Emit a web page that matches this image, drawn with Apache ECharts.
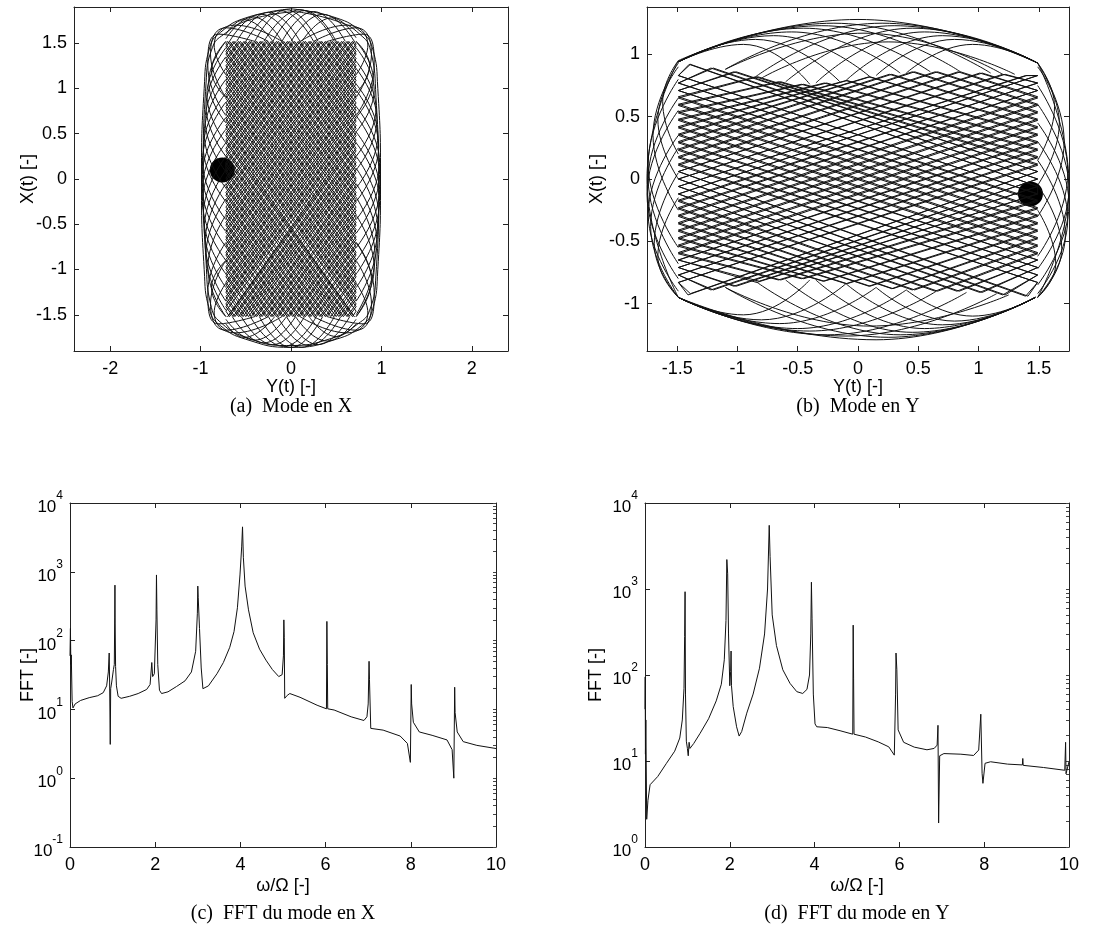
<!DOCTYPE html>
<html>
<head>
<meta charset="utf-8">
<script src="https://cdn.jsdelivr.net/npm/echarts@6.0.0/dist/echarts.min.js"></script>
<style>
  html, body { margin: 0; padding: 0; background: #fff; }
  #chart { width: 1104px; height: 940px; }
</style>
</head>
<body>
<div id="chart"></div>
<script>
// ---- (a) mode en X : trajectoire Y(t) / X(t), points de rebond
const trajModeX = [
  [-0.72,0.10],[0.47,-1.52],[0.72,-1.17],[-0.72,0.80],[-0.20,1.52],[0.72,0.26],[-0.58,-1.52],[-0.72,-1.33],[0.72,0.64],[0.08,1.52],
  [-0.72,0.43],[0.70,-1.52],[0.72,-1.50],[-0.72,0.48],[0.04,1.52],[0.72,0.59],[-0.72,-1.38],[-0.62,-1.52],[0.72,0.31],[-0.16,1.52],
  [-0.72,0.76],[0.72,-1.22],[0.50,-1.52],[-0.72,0.15],[0.28,1.52],[0.72,0.92],[-0.72,-1.05],[-0.38,-1.52],[0.72,-0.02],[-0.40,1.52],
  [-0.72,1.09],[0.72,-0.89],[0.26,-1.52],[-0.72,-0.18],[0.52,1.52],[0.72,1.25],[-0.72,-0.72],[-0.14,-1.52],[0.72,-0.35],[-0.64,1.52],
  [-0.72,1.41],[0.72,-0.56],[0.02,-1.52],[-0.72,-0.51],[0.72,1.46],[0.68,1.52],[-0.72,-0.39],[0.10,-1.52],[0.72,-0.67],[-0.72,1.30],
  [-0.56,1.52],[0.72,-0.23],[-0.22,-1.52],[-0.72,-0.84],[0.72,1.13],[0.44,1.52],[-0.72,-0.07],[0.34,-1.52],[0.72,-1.00],[-0.72,0.97],
  [-0.32,1.52],[0.72,0.10],
  [-0.47,-1.52],[-0.72,-1.17],[0.72,0.80],[0.20,1.52],[-0.72,0.26],[0.58,-1.52],[0.72,-1.33],[-0.72,0.64],[-0.08,1.52],
  [0.72,0.43],[-0.70,-1.52],[-0.72,-1.50],[0.72,0.48],[-0.04,1.52],[-0.72,0.59],[0.72,-1.38],[0.62,-1.52],[-0.72,0.31],[0.16,1.52],
  [0.72,0.76],[-0.72,-1.22],[-0.50,-1.52],[0.72,0.15],[-0.28,1.52],[-0.72,0.92],[0.72,-1.05],[0.38,-1.52],[-0.72,-0.02],[0.40,1.52],
  [0.72,1.09],[-0.72,-0.89],[-0.26,-1.52],[0.72,-0.18],[-0.52,1.52],[-0.72,1.25],[0.72,-0.72],[0.14,-1.52],[-0.72,-0.35],[0.64,1.52],
  [0.72,1.41],[-0.72,-0.56],[-0.02,-1.52],[0.72,-0.51],[-0.72,1.46],[-0.68,1.52],[0.72,-0.39],[-0.10,-1.52],[-0.72,-0.67],[0.72,1.30],
  [0.56,1.52],[-0.72,-0.23],[0.22,-1.52],[0.72,-0.84],[-0.72,1.13],[-0.44,1.52],[0.72,-0.07],[-0.34,-1.52],[-0.72,-1.00],[0.72,0.97],
  [0.32,1.52],[-0.72,0.10],
  // second passage, decale d'une demi-maille
  [-0.72,0.18],[0.53,-1.52],[0.72,-1.25],[-0.72,0.72],[-0.14,1.52],[0.72,0.34],[-0.64,-1.52],[-0.72,-1.41],[0.72,0.56],[0.02,1.52],
  [-0.72,0.51],[0.72,-1.46],[0.68,-1.52],[-0.72,0.40],[0.10,1.52],[0.72,0.67],[-0.72,-1.30],[-0.56,-1.52],[0.72,0.23],[-0.22,1.52],
  [-0.72,0.84],[0.72,-1.14],[0.44,-1.52],[-0.72,0.07],[0.34,1.52],[0.72,1.00],[-0.72,-0.97],[-0.32,-1.52],[0.72,-0.10],[-0.46,1.52],
  [-0.72,1.17],[0.72,-0.81],[0.20,-1.52],[-0.72,-0.26],[0.58,1.52],[0.72,1.33],[-0.72,-0.64],[-0.08,-1.52],[0.72,-0.43],[-0.70,1.52],
  [-0.72,1.49],[0.72,-0.48],[-0.04,-1.52],[-0.72,-0.59],[0.72,1.38],[0.62,1.52],[-0.72,-0.31],[0.16,-1.52],[0.72,-0.75],[-0.72,1.22],
  [-0.50,1.52],[0.72,-0.15],[-0.28,-1.52],[-0.72,-0.92],[0.72,1.05],[0.38,1.52],[-0.72,0.01],[0.40,-1.52],[0.72,-1.08],[-0.72,0.89],
  [-0.26,1.52],[0.72,0.18],
  [-0.53,-1.52],[-0.72,-1.25],[0.72,0.72],[0.14,1.52],[-0.72,0.34],[0.64,-1.52],[0.72,-1.41],[-0.72,0.56],[-0.02,1.52],
  [0.72,0.51],[-0.72,-1.46],[-0.68,-1.52],[0.72,0.40],[-0.10,1.52],[-0.72,0.67],[0.72,-1.30],[0.56,-1.52],[-0.72,0.23],[0.22,1.52],
  [0.72,0.84],[-0.72,-1.14],[-0.44,-1.52],[0.72,0.07],[-0.34,1.52],[-0.72,1.00],[0.72,-0.97],[0.32,-1.52],[-0.72,-0.10],[0.46,1.52],
  [0.72,1.17],[-0.72,-0.81],[-0.20,-1.52],[0.72,-0.26],[-0.58,1.52],[-0.72,1.33],[0.72,-0.64],[0.08,-1.52],[-0.72,-0.43],[0.70,1.52],
  [0.72,1.49],[-0.72,-0.48],[0.04,-1.52],[0.72,-0.59],[-0.72,1.38],[-0.62,1.52],[0.72,-0.31],[-0.16,-1.52],[-0.72,-0.75],[0.72,1.22],
  [0.50,1.52],[-0.72,-0.15],[0.28,-1.52],[0.72,-0.92],[-0.72,1.05],[-0.38,1.52],[0.72,0.01],[-0.40,-1.52],[-0.72,-1.08],[0.72,0.89],
  [0.26,1.52],[-0.72,0.18]
];
// enveloppe exterieure
const loopsModeX = [
  [[0,1.88],[0.5,1.78],[0.78,1.62],[0.9,1.45],[0.96,1.0],[0.99,0],[0.96,-1.0],[0.9,-1.45],[0.78,-1.62],[0.5,-1.77],[0,-1.86],
   [-0.5,-1.77],[-0.78,-1.62],[-0.9,-1.45],[-0.96,-1.0],[-0.99,0],[-0.96,1.0],[-0.9,1.45],[-0.78,1.62],[-0.5,1.78],[0,1.88]],
  [[0.05,1.85],[0.52,1.74],[0.76,1.6],[0.88,1.42],[0.94,0.9],[0.97,-0.1],[0.94,-1.05],[0.87,-1.45],[0.74,-1.6],[0.45,-1.76],[-0.05,-1.84],
   [-0.52,-1.74],[-0.76,-1.6],[-0.88,-1.42],[-0.94,-0.9],[-0.97,0.1],[-0.94,1.05],[-0.87,1.45],[-0.74,1.6],[-0.45,1.76],[0.05,1.85]]
];
// arcs des lobes lateraux, des calottes et des coins
const arcsModeX = [
  [[-0.72,1.52],[-0.91,1.07],[-0.72,0.62]], [[-0.72,1.35],[-0.94,0.80],[-0.72,0.25]], [[-0.72,1.10],[-0.96,0.50],[-0.72,-0.10]],
  [[-0.72,0.85],[-0.98,0.20],[-0.72,-0.45]], [[-0.72,0.55],[-0.98,-0.10],[-0.72,-0.75]], [[-0.72,0.25],[-0.97,-0.40],[-0.72,-1.05]],
  [[-0.72,-0.05],[-0.95,-0.70],[-0.72,-1.35]], [[-0.72,-0.40],[-0.92,-0.98],[-0.72,-1.52]], [[-0.72,1.52],[-0.88,1.20],[-0.72,0.90]],
  [[-0.72,-1.52],[-0.88,-1.20],[-0.72,-0.90]],
  [[-0.72,1.45],[-0.93,0.93],[-0.72,0.40]], [[-0.72,1.22],[-0.95,0.65],[-0.72,0.08]], [[-0.72,0.95],[-0.97,0.35],[-0.72,-0.25]],
  [[-0.72,0.68],[-0.98,0.05],[-0.72,-0.58]], [[-0.72,0.40],[-0.98,-0.25],[-0.72,-0.90]], [[-0.72,0.10],[-0.96,-0.55],[-0.72,-1.20]],
  [[-0.72,-0.22],[-0.94,-0.83],[-0.72,-1.45]],
  [[0.72,1.45],[0.92,0.98],[0.72,0.52]], [[0.72,1.22],[0.95,0.66],[0.72,0.10]], [[0.72,0.98],[0.97,0.36],[0.72,-0.25]],
  [[0.72,0.70],[0.98,0.05],[0.72,-0.60]], [[0.72,0.40],[0.98,-0.25],[0.72,-0.90]], [[0.72,0.12],[0.96,-0.55],[0.72,-1.20]],
  [[0.72,-0.20],[0.93,-0.85],[0.72,-1.50]], [[0.72,1.52],[0.87,1.25],[0.72,0.95]], [[0.72,-0.70],[0.89,-1.12],[0.72,-1.52]],
  [[0.72,1.52],[0.91,1.10],[0.72,0.68]], [[0.72,1.30],[0.94,0.78],[0.72,0.25]], [[0.72,1.05],[0.96,0.48],[0.72,-0.10]],
  [[0.72,0.80],[0.98,0.18],[0.72,-0.45]], [[0.72,0.52],[0.98,-0.12],[0.72,-0.76]], [[0.72,0.25],[0.97,-0.40],[0.72,-1.05]],
  [[0.72,-0.05],[0.95,-0.70],[0.72,-1.35]], [[0.72,-0.40],[0.92,-0.98],[0.72,-1.52]],
  [[-0.72,1.55],[-0.42,1.79],[-0.10,1.52]], [[-0.60,1.52],[-0.25,1.84],[0.10,1.52]], [[-0.40,1.52],[-0.05,1.87],[0.30,1.52]],
  [[-0.20,1.52],[0.15,1.86],[0.50,1.52]], [[0.00,1.52],[0.35,1.82],[0.70,1.52]], [[0.12,1.52],[0.45,1.78],[0.72,1.56]],
  [[-0.50,1.52],[-0.12,1.86],[0.25,1.52]], [[-0.68,1.52],[-0.33,1.82],[0.02,1.52]], [[-0.10,1.52],[0.25,1.85],[0.60,1.52]],
  [[-0.72,1.60],[-0.52,1.76],[-0.20,1.52]], [[-0.30,1.52],[0.10,1.87],[0.48,1.52]],
  [[-0.72,-1.55],[-0.40,-1.78],[-0.05,-1.52]], [[-0.55,-1.52],[-0.20,-1.83],[0.15,-1.52]], [[-0.35,-1.52],[0.00,-1.86],[0.35,-1.52]],
  [[-0.15,-1.52],[0.20,-1.84],[0.55,-1.52]], [[0.05,-1.52],[0.40,-1.79],[0.72,-1.55]], [[-0.45,-1.52],[-0.08,-1.85],[0.28,-1.52]],
  [[0.20,-1.52],[0.50,-1.74],[0.72,-1.60]], [[-0.65,-1.52],[-0.30,-1.81],[0.05,-1.52]], [[-0.05,-1.52],[0.30,-1.83],[0.65,-1.52]],
  [[-0.72,-1.60],[-0.52,-1.75],[-0.18,-1.52]], [[-0.25,-1.52],[0.12,-1.86],[0.48,-1.52]],
  [[-0.72,0.90],[-0.89,1.38],[-0.72,1.67],[-0.25,1.52]], [[-0.72,1.15],[-0.85,1.48],[-0.62,1.70],[-0.10,1.52]],
  [[-0.72,0.70],[-0.92,1.25],[-0.80,1.60],[-0.40,1.52]],
  [[0.72,0.90],[0.89,1.38],[0.72,1.67],[0.25,1.52]], [[0.72,1.15],[0.85,1.48],[0.62,1.70],[0.10,1.52]],
  [[0.72,0.70],[0.92,1.25],[0.80,1.60],[0.40,1.52]],
  [[-0.72,-0.90],[-0.89,-1.38],[-0.72,-1.67],[-0.25,-1.52]], [[-0.72,-1.15],[-0.85,-1.48],[-0.62,-1.70],[-0.10,-1.52]],
  [[-0.72,-0.70],[-0.92,-1.25],[-0.80,-1.60],[-0.40,-1.52]],
  [[0.72,-0.90],[0.89,-1.38],[0.72,-1.67],[0.25,-1.52]], [[0.72,-1.15],[0.85,-1.48],[0.62,-1.70],[0.10,-1.52]],
  [[0.72,-0.70],[0.92,-1.25],[0.80,-1.60],[0.40,-1.52]]
];
const startModeX = [[-0.76, 0.10]];

// ---- (b) mode en Y
const trajModeY = [
  [1.49,-0.12],[-1.49,0.83],[-1.39,0.92],[1.49,-0.06],[-1.03,-0.86],[-1.49,-0.71],[1.49,0.23],[-0.47,0.76],[-1.49,0.54],[1.49,-0.41],
  [0.09,-0.86],[-1.49,-0.36],[1.49,0.59],[0.64,0.86],[-1.49,0.18],[1.49,-0.77],[1.20,-0.93],[-1.49,0.00],[1.22,0.84],[1.49,0.77],
  [-1.49,-0.17],[0.66,-0.90],[1.49,-0.60],[-1.49,0.35],[0.10,0.82],[1.49,0.42],[-1.49,-0.53],[-0.45,-0.80],[1.49,-0.24],[-1.49,0.71],
  [-1.01,0.86],[1.49,0.06],[-1.41,-0.93],[-1.49,-0.83],[1.49,0.11],[-0.85,0.82],[-1.49,0.66],[1.49,-0.29],[-0.29,-0.82],[-1.49,-0.48],
  [1.49,0.47],[0.26,0.84],[-1.49,0.30],[1.49,-0.65],[0.82,-0.90],[-1.49,-0.12],
  [1.49,0.83],[1.39,0.83],[-1.49,-0.06],[1.03,-0.91],[1.49,-0.71],[-1.49,0.23],[0.47,0.86],[1.49,0.54],[-1.49,-0.41],
  [-0.09,-0.84],[1.49,-0.36],[-1.49,0.59],[-0.64,0.78],[1.49,0.18],[-1.49,-0.77],[-1.20,-0.89],[1.49,0.00],[-1.22,0.89],[-1.49,0.77],
  [1.49,-0.17],[-0.66,-0.81],[-1.49,-0.60],[1.49,0.35],[-0.10,0.79],[-1.49,0.42],[1.49,-0.53],[0.45,-0.89],[-1.49,-0.24],[1.49,0.71],
  [1.01,0.85],[-1.49,0.06],[1.41,-0.94],[1.49,-0.83],[-1.49,0.11],[0.85,0.86],[1.49,0.66],[-1.49,-0.29],[0.29,-0.88],[1.49,-0.48],
  [-1.49,0.47],[-0.26,0.77],[1.49,0.30],[-1.49,-0.65],[-0.82,-0.82],[1.49,-0.12],
  // second passage
  [1.49,-0.06],[-1.40,0.92],[-1.49,0.83],[1.49,-0.12],[-0.84,-0.83],[-1.49,-0.65],[1.49,0.29],[-0.28,0.77],[-1.49,0.48],[1.49,-0.47],
  [0.28,-0.88],[-1.49,-0.30],[1.49,0.65],[0.83,0.86],[-1.49,0.12],[1.49,-0.83],[1.39,-0.94],[-1.49,0.06],[1.03,0.85],[1.49,0.71],
  [-1.49,-0.23],[0.47,-0.89],[1.49,-0.54],[-1.49,0.41],[-0.09,0.79],[1.49,0.36],[-1.49,-0.59],[-0.64,-0.81],[1.49,-0.18],[-1.49,0.77],
  [-1.20,0.89],[1.49,0.00],[-1.22,-0.89],[-1.49,-0.77],[1.49,0.17],[-0.66,0.78],[-1.49,0.60],[1.49,-0.35],[-0.10,-0.84],[-1.49,-0.42],
  [1.49,0.53],[0.45,0.86],[-1.49,0.24],[1.49,-0.71],[1.01,-0.91],[-1.49,-0.06],
  [1.40,0.83],[1.49,0.83],[-1.49,-0.12],[0.84,-0.90],[1.49,-0.65],[-1.49,0.29],[0.28,0.84],[1.49,0.48],[-1.49,-0.47],
  [-0.28,-0.82],[1.49,-0.30],[-1.49,0.65],[-0.83,0.82],[1.49,0.12],[-1.49,-0.83],[-1.39,-0.92],[1.49,0.06],[-1.03,0.86],[-1.49,0.71],
  [1.49,-0.23],[-0.47,-0.80],[-1.49,-0.54],[1.49,0.41],[0.09,0.82],[-1.49,0.36],[1.49,-0.59],[0.64,-0.90],[-1.49,-0.18],[1.49,0.77],
  [1.20,0.84],[-1.49,0.00],[1.22,-0.93],[1.49,-0.77],[-1.49,0.17],[0.66,0.86],[1.49,0.60],[-1.49,-0.35],[0.10,-0.86],[1.49,-0.42],
  [-1.49,0.53],[-0.45,0.76],[1.49,0.24],[-1.49,-0.71],[-1.01,-0.86],[1.49,-0.06]
];
const arcsModeY = [
  [[-1.49,0.94],[-0.95,1.08],[-0.40,0.76]], [[-1.49,0.94],[-0.70,1.15],[0.10,0.82]], [[-1.49,0.94],[-0.45,1.21],[0.60,0.86]],
  [[-1.49,0.94],[-0.20,1.25],[1.10,0.85]], [[-1.49,0.95],[0.00,1.28],[1.49,0.93]],
  [[-1.49,0.94],[-0.85,1.12],[-0.15,0.78]], [[-1.49,0.94],[-0.55,1.18],[0.35,0.85]], [[-1.49,0.94],[-0.30,1.23],[0.85,0.86]],
  [[1.49,0.93],[0.95,1.08],[0.40,0.85]], [[1.49,0.93],[0.70,1.15],[-0.10,0.79]], [[1.49,0.93],[0.45,1.21],[-0.60,0.78]],
  [[1.49,0.93],[0.20,1.25],[-1.10,0.88]], [[1.49,0.93],[0.80,1.12],[0.15,0.83]], [[1.49,0.93],[0.55,1.18],[-0.35,0.77]],
  [[1.49,0.93],[0.30,1.23],[-0.85,0.82]], [[-1.10,0.88],[0.05,1.17],[1.20,0.84]], [[-0.80,0.81],[0.25,1.10],[1.30,0.84]],
  [[-1.49,-0.95],[-0.95,-1.09],[-0.40,-0.81]], [[-1.49,-0.95],[-0.65,-1.16],[0.15,-0.87]], [[-1.49,-0.95],[-0.40,-1.22],[0.65,-0.90]],
  [[-1.49,-0.95],[-0.10,-1.26],[1.15,-0.92]], [[-1.49,-0.95],[0.15,-1.29],[1.47,-0.95]],
  [[-1.49,-0.95],[-0.80,-1.13],[-0.10,-0.84]], [[-1.49,-0.95],[-0.50,-1.20],[0.40,-0.89]], [[-1.49,-0.95],[-0.25,-1.25],[0.90,-0.91]],
  [[1.47,-0.95],[0.95,-1.10],[0.40,-0.89]], [[1.47,-0.95],[0.70,-1.17],[-0.10,-0.84]], [[1.47,-0.95],[0.45,-1.23],[-0.60,-0.81]],
  [[1.47,-0.95],[0.25,-1.27],[-1.10,-0.87]], [[1.47,-0.95],[0.80,-1.14],[0.15,-0.87]], [[1.47,-0.95],[0.55,-1.20],[-0.35,-0.81]],
  [[1.47,-0.95],[0.35,-1.25],[-0.85,-0.82]], [[-1.10,-0.87],[0.10,-1.18],[1.25,-0.93]],
  [[-1.49,0.95],[-1.62,0.62],[-1.49,0.20]], [[-1.49,0.93],[-1.70,0.35],[-1.49,-0.25]], [[-1.49,0.80],[-1.74,0.12],[-1.49,-0.55]],
  [[-1.49,0.55],[-1.75,-0.12],[-1.49,-0.80]], [[-1.49,0.25],[-1.72,-0.38],[-1.49,-0.95]], [[-1.49,-0.15],[-1.66,-0.62],[-1.49,-0.95]],
  [[-1.49,0.95],[-1.75,0.00],[-1.49,-0.95]], [[-1.49,0.90],[-1.66,0.48],[-1.49,0.00]], [[-1.49,0.65],[-1.74,0.00],[-1.49,-0.68]],
  [[-1.49,0.35],[-1.74,-0.28],[-1.49,-0.90]], [[-1.49,0.05],[-1.69,-0.52],[-1.49,-0.95]],
  [[1.49,0.93],[1.63,0.58],[1.49,0.15]], [[1.49,0.93],[1.71,0.30],[1.49,-0.30]], [[1.49,0.75],[1.74,0.05],[1.49,-0.62]],
  [[1.49,0.45],[1.75,-0.20],[1.49,-0.85]], [[1.49,0.15],[1.72,-0.45],[1.49,-0.95]], [[1.49,-0.25],[1.64,-0.68],[1.49,-0.95]],
  [[1.49,0.93],[1.75,-0.05],[1.49,-0.95]], [[1.49,0.90],[1.67,0.45],[1.49,-0.05]], [[1.49,0.60],[1.75,-0.08],[1.49,-0.72]],
  [[1.49,0.30],[1.74,-0.32],[1.49,-0.92]], [[1.49,-0.05],[1.69,-0.56],[1.49,-0.95]]
];
const startModeY = [[1.43, -0.12]];

// ---- (c) FFT du mode en X  [omega/Omega, FFT]
const fftModeX = [
  [0.00,60],[0.01,150],[0.02,45],[0.03,62],[0.05,13],[0.07,10.5],[0.12,12],[0.25,13.5],[0.45,14.8],[0.65,15.8],[0.78,17.5],[0.86,22],
  [0.90,35],[0.92,66],[0.93,25],[0.945,3.1],[0.955,20],[0.98,25],[1.02,38],[1.04,45],[1.05,220],[1.055,640],[1.06,180],[1.07,42],
  [1.09,22],[1.13,15.5],[1.2,14.5],[1.4,15.5],[1.6,17],[1.8,19.5],[1.88,23],[1.92,48],[1.94,30],[1.98,33],[2.02,200],[2.03,900],
  [2.04,280],[2.06,45],[2.1,19],[2.15,17],[2.3,18],[2.5,21.5],[2.7,26],[2.85,35],[2.95,70],[2.99,250],[3.0,620],[3.01,420],[3.04,150],
  [3.08,40],[3.12,20],[3.15,19],[3.25,22],[3.45,33],[3.6,48],[3.75,80],[3.85,135],[3.93,300],[3.99,900],[4.03,2300],[4.05,4500],
  [4.07,1600],[4.11,620],[4.19,280],[4.3,130],[4.45,75],[4.6,52],[4.75,38],[4.9,30],[4.98,32],[5.01,60],[5.02,200],[5.03,110],
  [5.04,14.5],[5.1,16],[5.16,17],[5.4,15],[5.8,11.5],[6.02,10.2],[6.03,190],[6.04,45],[6.05,10.2],[6.2,9.8],[6.6,7.8],[6.9,6.9],
  [6.97,7.8],[7.0,12],[7.02,50],[7.03,27],[7.06,5.3],[7.35,5.0],[7.75,4.1],[7.92,3.2],[7.99,1.7],[8.01,23],[8.02,12],[8.06,6.5],
  [8.2,4.7],[8.5,4.2],[8.85,3.6],[8.97,2.6],[9.01,1.0],[9.03,21],[9.04,9],[9.09,4.7],[9.23,3.4],[9.55,3.0],[10,2.7]
];
// ---- (d) FFT du mode en Y
const fftModeY = [
  [0.00,40],[0.005,95],[0.01,12],[0.02,30],[0.04,2.1],[0.07,3.5],[0.12,5.3],[0.3,6.6],[0.5,9.3],[0.7,13],[0.82,18.5],[0.88,30],
  [0.92,70],[0.935,280],[0.945,930],[0.955,60],[0.975,17],[1.0,14],[1.02,11.5],[1.04,16.5],[1.06,14],[1.15,16],[1.3,21],[1.5,31],
  [1.68,50],[1.8,78],[1.87,150],[1.91,430],[1.93,2200],[1.95,1500],[1.97,300],[2.0,75],[2.02,110],[2.03,190],[2.04,75],[2.08,43],
  [2.16,25],[2.22,19.5],[2.28,22],[2.4,36],[2.55,60],[2.7,120],[2.82,300],[2.89,1000],[2.93,5500],[2.95,2400],[3.0,500],[3.1,220],
  [3.25,115],[3.42,80],[3.58,64],[3.72,61],[3.82,68],[3.88,100],[3.91,300],[3.925,1200],[3.94,450],[3.97,60],[4.01,27],[4.05,25],
  [4.3,24.5],[4.6,22.5],[4.9,20.5],[4.91,380],[4.92,90],[4.93,20.5],[5.2,19],[5.5,16.7],[5.75,14.6],[5.88,11.7],[5.91,60],[5.92,180],
  [5.94,115],[5.97,23],[6.1,16.5],[6.35,14.5],[6.65,13.5],[6.82,14],[6.89,15.3],[6.91,26],[6.925,1.9],[6.95,11.5],[7.05,12.2],
  [7.45,12],[7.75,11.6],[7.87,13.4],[7.92,35],[7.95,7.2],[7.97,5.5],[8.02,9.4],[8.15,9.8],[8.55,9.2],[8.9,9.0],[8.91,10.7],[8.92,8.9],
  [9.4,8.4],[9.9,7.8],[9.92,16.5],[9.93,7.1],[10,9.8]
];

// ---- ticks
const ticksA_x = [-2, -1, 0, 1, 2];
const ticksA_y = [-1.5, -1, -0.5, 0, 0.5, 1, 1.5];
const ticksB_x = [-1.5, -1, -0.5, 0, 0.5, 1, 1.5];
const ticksB_y = [-1, -0.5, 0, 0.5, 1];
const ticksFreq = [0, 2, 4, 6, 8, 10];
const ticksFftX = [0.1, 1, 10, 100, 1000, 10000];
const ticksFftY = [1, 10, 100, 1000, 10000];
// graduations secondaires du cote droit des axes log
const minorFftX = [0.1,0.2,0.3,0.4,0.5,0.6,0.7,0.8,0.9,1,2,3,4,5,6,7,8,9,10,20,30,40,50,60,70,80,90,100,
  200,300,400,500,600,700,800,900,1000,2000,3000,4000,5000,6000,7000,8000,9000,10000];
const minorFftY = [1,2,3,4,5,6,7,8,9,10,20,30,40,50,60,70,80,90,100,
  200,300,400,500,600,700,800,900,1000,2000,3000,4000,5000,6000,7000,8000,9000,10000];

const SANS = "'Liberation Sans', Arial, Helvetica, sans-serif";
const SERIF = "'Liberation Serif', 'Times New Roman', serif";
const INK = '#000';

const chart = echarts.init(document.getElementById('chart'), null, {renderer: 'canvas'});

const grids = [
  {left: 74, top: 7, width: 434, height: 344},
  {left: 647, top: 7, width: 422, height: 344},
  {left: 70, top: 503, width: 426, height: 344},
  {left: 645, top: 503, width: 424, height: 344}
];

function logLabel(v) {
  const e = Math.round(Math.log10(v));
  return '{b|10}{s|' + e + '}';
}

// one bottom+top x axis and one left+right y axis per grid, to close the box
function xAxes(g, cfg) {
  const base = {
    type: 'value', gridIndex: g, min: cfg.min, max: cfg.max,
    axisLine: {show: true, onZero: false, lineStyle: {color: '#222', width: 1}},
    axisTick: {show: true, inside: true, length: 5, customValues: cfg.ticks, lineStyle: {color: '#222'}},
    splitLine: {show: false}
  };
  return [
    Object.assign({}, base, {
      position: 'bottom',
      axisLabel: {customValues: cfg.ticks, color: INK, fontSize: 18, fontFamily: SANS, margin: 9},
      name: cfg.name, nameLocation: 'middle', nameGap: cfg.nameGap, nameMoveOverlap: false,
      nameTextStyle: {color: INK, fontSize: 18, fontFamily: SANS}
    }),
    Object.assign({}, base, {position: 'top', axisLabel: {show: false}})
  ];
}
function yAxes(g, cfg) {
  const base = {
    type: cfg.log ? 'log' : 'value', logBase: 10, gridIndex: g, min: cfg.min, max: cfg.max,
    axisLine: {show: true, onZero: false, lineStyle: {color: '#222', width: 1}},
    axisTick: {show: true, inside: true, length: 5, customValues: cfg.ticks, lineStyle: {color: '#222'}},
    splitLine: {show: false}
  };
  const label = cfg.log ? {
    customValues: cfg.ticks, formatter: logLabel, margin: 7,
    rich: {
      b: {fontSize: 17, fontFamily: SANS, color: INK, lineHeight: 26, verticalAlign: 'bottom'},
      s: {fontSize: 12, fontFamily: SANS, color: INK, lineHeight: 13, verticalAlign: 'top'}
    }
  } : {customValues: cfg.ticks, color: INK, fontSize: 18, fontFamily: SANS, margin: 7};
  const right = Object.assign({}, base, {position: 'right', axisLabel: {show: false}});
  if (cfg.minor) {
    right.axisTick = {show: true, inside: true, length: 3, customValues: cfg.minor, lineStyle: {color: '#444'}};
  }
  return [
    Object.assign({}, base, {
      position: 'left', axisLabel: label,
      name: cfg.name, nameLocation: 'middle', nameGap: cfg.nameGap, nameRotate: 90, nameMoveOverlap: false,
      nameTextStyle: {color: INK, fontSize: 18, fontFamily: SANS}
    }),
    right
  ];
}

const xAxis = [].concat(
  xAxes(0, {min: -2.4, max: 2.4, ticks: ticksA_x, name: 'Y(t) [-]', nameGap: 27}),
  xAxes(1, {min: -1.75, max: 1.75, ticks: ticksB_x, name: 'Y(t) [-]', nameGap: 27}),
  xAxes(2, {min: 0, max: 10, ticks: ticksFreq, name: 'ω/Ω [-]', nameGap: 30}),
  xAxes(3, {min: 0, max: 10, ticks: ticksFreq, name: 'ω/Ω [-]', nameGap: 30})
);
const yAxis = [].concat(
  yAxes(0, {min: -1.9, max: 1.9, ticks: ticksA_y, name: 'X(t) [-]', nameGap: 37}),
  yAxes(1, {min: -1.38, max: 1.38, ticks: ticksB_y, name: 'X(t) [-]', nameGap: 41}),
  yAxes(2, {log: true, min: 0.1, max: 10000, ticks: ticksFftX, minor: minorFftX, name: 'FFT [-]', nameGap: 33}),
  yAxes(3, {log: true, min: 1, max: 10000, ticks: ticksFftY, minor: minorFftY, name: 'FFT [-]', nameGap: 40})
);

function pathSeries(axisIdx, data, smooth) {
  return {
    type: 'line', xAxisIndex: axisIdx, yAxisIndex: axisIdx, data: data,
    smooth: smooth, showSymbol: false, symbol: 'none', silent: true,
    lineStyle: {color: '#111', width: 1}
  };
}

const series = [];
series.push(pathSeries(0, trajModeX, false));
loopsModeX.forEach(l => series.push(pathSeries(0, l, 0.5)));
arcsModeX.forEach(a => series.push(pathSeries(0, a, 0.5)));
series.push({type: 'scatter', xAxisIndex: 0, yAxisIndex: 0, data: startModeX, symbolSize: 25,
  itemStyle: {color: '#000', opacity: 1}});

series.push(pathSeries(2, trajModeY, false));
arcsModeY.forEach(a => series.push(pathSeries(2, a, 0.5)));
series.push({type: 'scatter', xAxisIndex: 2, yAxisIndex: 2, data: startModeY, symbolSize: 25,
  itemStyle: {color: '#000', opacity: 1}});

series.push(pathSeries(4, fftModeX, false));
series.push(pathSeries(6, fftModeY, false));

const captionStyle = {fontFamily: SERIF, fontSize: 20, fontWeight: 'normal', color: INK};
const title = [
  {text: '(a)\u2002Mode en X', left: 291, top: 397, textAlign: 'center', padding: 0, textStyle: captionStyle},
  {text: '(b)\u2002Mode en Y', left: 858, top: 397, textAlign: 'center', padding: 0, textStyle: captionStyle},
  {text: '(c)\u2002FFT du mode en X', left: 283, top: 904, textAlign: 'center', padding: 0, textStyle: captionStyle},
  {text: '(d)\u2002FFT du mode en Y', left: 857, top: 904, textAlign: 'center', padding: 0, textStyle: captionStyle}
];

chart.setOption({
  animation: false,
  backgroundColor: '#fff',
  title: title,
  grid: grids,
  xAxis: xAxis,
  yAxis: yAxis,
  series: series
});
</script>
</body>
</html>
